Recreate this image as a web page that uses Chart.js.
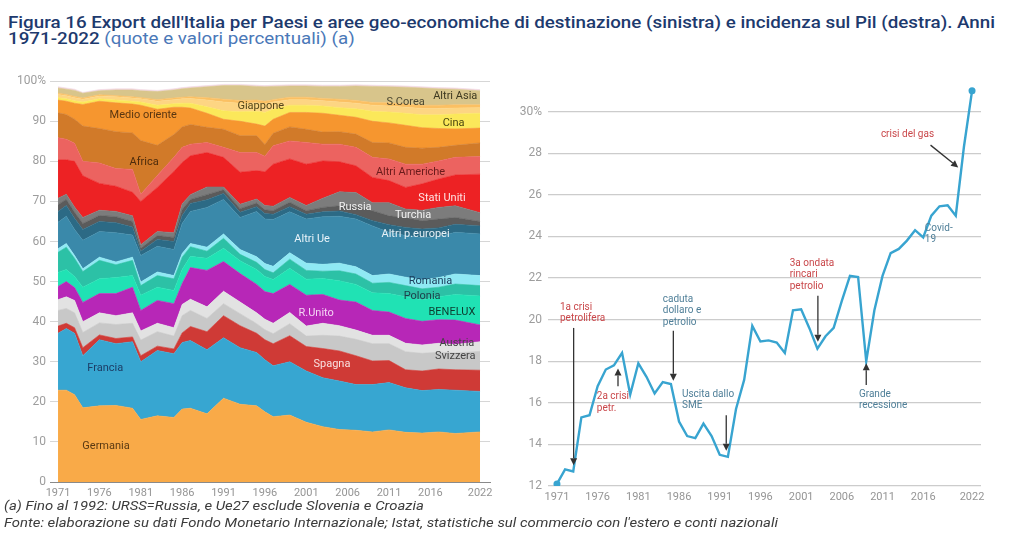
<!DOCTYPE html>
<html lang="it">

<head>
    <meta charset="UTF-8">
    <title>Export dell'Italia per Paesi e incidenza sul Pil</title>
    <script src="https://cdn.jsdelivr.net/npm/chart.js"></script>
    <style>
        body {
            margin: 0;
            width: 1026px;
            height: 554px;
            overflow: hidden;
            position: relative;
            background: #fff;
            font-family: Roboto, sans-serif;
        }

        .riga {
            position: absolute;
            left: 8px;
            width: max-content;
            white-space: nowrap;
            transform-origin: 0 0;
            line-height: 1;
        }

        .titolo {
            font-size: 16.5px;
            font-weight: 500;
            color: #1d3a6e;
        }

        .titolo .chiaro {
            font-weight: 400;
            color: #4a78b8;
        }

        .nota {
            left: 4px;
            font-size: 13px;
            font-style: italic;
            color: #3c3c3c;
        }

        canvas {
            position: absolute;
        }
    </style>
</head>

<body>
    <div class="riga titolo" id="t1" style="top:15px">Figura 16 Export dell'Italia per Paesi e aree geo-economiche di destinazione (sinistra) e incidenza sul Pil (destra). Anni</div>
    <div class="riga titolo" id="t2" style="top:31px">1971-2022 <span class="chiaro">(quote e valori percentuali) (a)</span></div>

    <canvas id="sx" width="500" height="440" style="left:0;top:70px"></canvas>
    <canvas id="dx" width="490" height="440" style="left:505px;top:70px"></canvas>

    <div class="riga nota" id="n1" style="top:499px">(a) Fino al 1992: URSS=Russia, e Ue27 esclude Slovenia e Croazia</div>
    <div class="riga nota" id="n2" style="top:516px">Fonte: elaborazione su dati Fondo Monetario Internazionale; Istat, statistiche sul commercio con l'estero e conti nazionali</div>

    <script>
        const anni = [1971, 1972, 1973, 1974, 1976, 1978, 1980, 1981, 1983, 1985, 1986, 1987, 1989, 1991, 1993,
            1995, 1996, 1997, 1999, 2001, 2003, 2005, 2007, 2009, 2011, 2013, 2015, 2017, 2019, 2022];

        const germania = [22.9, 22.9, 21.8, 18.5, 19.0, 19.1, 18.4, 15.6, 16.5, 16.1, 18.2, 18.4, 17.0, 20.9, 19.4, 19.0, 17.5, 16.3, 16.7, 14.9, 13.8, 13.1, 12.9, 12.5, 13.0, 12.4, 12.2, 12.5, 12.1, 12.5];
        const francia = [14.2, 15.4, 15.3, 13.0, 16.5, 15.4, 16.6, 14.4, 16.3, 15.9, 16.6, 16.9, 16.0, 15.1, 14.1, 13.3, 13.0, 12.7, 13.3, 12.8, 12.2, 12.1, 11.4, 11.8, 11.8, 11.1, 10.6, 10.6, 10.8, 10.1];
        const spagna = [1.8, 1.3, 1.4, 2.0, 1.2, 1.3, 1.2, 1.5, 1.1, 1.2, 2.4, 3.5, 4.5, 5.5, 5.5, 4.8, 5.0, 5.5, 6.5, 6.1, 7.3, 7.5, 7.2, 5.9, 5.5, 4.5, 4.9, 5.1, 5.1, 5.3];
        const svizzera = [3.9, 3.7, 3.7, 3.8, 3.0, 3.5, 3.4, 3.9, 3.6, 3.2, 4.3, 4.0, 3.3, 3.0, 3.0, 2.4, 2.5, 2.5, 3.0, 2.6, 3.3, 3.7, 4.1, 4.3, 4.2, 4.5, 4.4, 4.2, 4.2, 4.7];
        const austria = [2.7, 2.9, 3.1, 2.7, 2.5, 2.2, 2.6, 2.3, 2.1, 2.1, 2.8, 2.8, 2.9, 3.1, 2.9, 2.7, 2.6, 2.6, 2.8, 2.5, 3.0, 2.6, 2.3, 2.1, 2.1, 2.1, 2.1, 2.2, 2.1, 2.4];
        const regnoUnito = [3.3, 3.8, 3.2, 4.8, 4.8, 5.5, 6.4, 5.1, 5.7, 6.0, 5.2, 7.9, 9.1, 7.4, 7.1, 7.1, 6.9, 7.4, 7.0, 7.7, 7.2, 6.4, 7.0, 6.2, 5.8, 6.2, 5.9, 5.9, 6.1, 4.2];
        const benelux = [3.5, 3.0, 2.8, 3.8, 3.7, 4.0, 2.9, 3.8, 3.3, 3.3, 3.5, 2.8, 3.0, 3.3, 3.2, 3.7, 3.8, 3.5, 4.0, 4.0, 4.0, 4.8, 4.4, 4.4, 4.6, 5.4, 5.3, 5.7, 6.4, 7.2];
        const polonia = [5.0, 5.6, 4.5, 3.9, 4.6, 3.2, 3.8, 2.4, 2.9, 2.9, 3.1, 2.4, 1.8, 2.5, 1.6, 1.8, 1.7, 1.7, 2.3, 2.2, 1.8, 2.5, 2.6, 2.4, 2.8, 2.8, 2.8, 2.4, 2.6, 2.6];
        const romania = [0.9, 0.9, 0.7, 0.7, 0.8, 0.7, 0.8, 0.9, 0.9, 0.8, 0.9, 0.8, 1.0, 1.1, 1.2, 1.4, 1.5, 1.6, 1.6, 1.8, 1.7, 1.9, 1.8, 1.9, 2.1, 2.1, 2.2, 2.4, 2.5, 2.5];
        const altriUe = [6.6, 6.8, 6.5, 7.1, 6.4, 7.3, 5.5, 6.6, 6.4, 6.5, 7.5, 8.0, 9.9, 8.6, 8.0, 11.3, 11.1, 11.7, 10.2, 11.0, 11.9, 11.7, 11.9, 12.4, 10.4, 10.4, 10.6, 10.2, 10.4, 10.4];
        const altriEuropei = [2.7, 2.7, 2.8, 2.7, 2.5, 2.5, 2.0, 1.1, 1.7, 2.0, 2.0, 2.0, 1.9, 1.5, 1.3, 1.2, 1.4, 1.3, 1.3, 1.2, 1.2, 1.3, 1.1, 1.3, 1.9, 2.0, 2.1, 2.2, 2.0, 2.0];
        const turchia = [1.7, 1.5, 1.5, 1.5, 1.5, 1.5, 1.4, 0.7, 1.0, 1.0, 1.5, 1.0, 1.3, 0.9, 0.9, 0.9, 0.9, 0.9, 1.1, 0.9, 1.1, 1.3, 2.1, 2.5, 2.2, 2.5, 2.1, 2.2, 1.7, 1.1];
        const russia = [1.6, 1.3, 1.3, 1.5, 1.3, 1.3, 1.4, 0.9, 1.0, 1.2, 1.4, 1.2, 1.9, 0.7, 1.1, 1.0, 1.1, 1.1, 1.2, 1.3, 2.3, 3.5, 3.4, 2.0, 3.3, 2.1, 2.6, 2.9, 2.9, 2.2];
        const statiUniti = [9.6, 8.6, 11.4, 10.4, 6.7, 6.3, 5.9, 10.8, 11.0, 15.3, 10.3, 9.7, 8.6, 7.4, 8.0, 7.1, 8.4, 10.5, 9.6, 10.3, 9.3, 7.5, 6.7, 6.3, 5.5, 5.4, 6.6, 7.1, 7.7, 9.6];
        const altreAmeriche = [5.5, 5.1, 4.5, 3.6, 5.1, 4.4, 5.7, 1.8, 3.0, 3.5, 3.8, 2.9, 2.5, 2.5, 4.9, 4.5, 3.9, 4.6, 4.5, 5.4, 4.2, 4.4, 4.6, 5.0, 5.4, 5.8, 4.9, 4.5, 4.4, 4.4];
        const africa = [6.2, 6.2, 6.0, 8.8, 8.6, 9.2, 9.1, 13.4, 7.5, 5.7, 5.1, 4.9, 3.8, 4.5, 4.2, 4.2, 2.9, 3.1, 3.5, 3.3, 3.0, 3.1, 3.3, 3.7, 4.0, 4.2, 4.0, 3.4, 3.0, 3.4];
        const medioOriente = [3.2, 3.3, 4.0, 5.4, 6.8, 7.2, 7.2, 8.8, 9.0, 6.8, 4.9, 4.1, 3.5, 2.5, 3.6, 2.9, 4.6, 3.5, 3.6, 4.2, 4.7, 4.1, 4.2, 5.3, 5.0, 5.5, 5.1, 4.7, 4.1, 3.7];
        const cina = [0.6, 0.6, 0.6, 0.6, 0.6, 0.7, 0.7, 0.8, 1.0, 0.9, 1.0, 1.2, 1.6, 2.1, 2.4, 3.2, 3.4, 2.5, 1.8, 1.8, 1.8, 1.9, 2.1, 2.5, 2.7, 3.0, 3.2, 3.4, 3.7, 3.7];
        const giappone = [0.8, 0.8, 0.8, 0.7, 0.7, 0.8, 0.8, 0.8, 1.0, 1.0, 1.1, 1.2, 1.7, 2.2, 2.1, 2.1, 2.1, 1.8, 1.4, 1.4, 1.3, 1.4, 1.4, 1.5, 1.5, 1.5, 1.6, 1.6, 1.5, 1.4];
        const corea = [0.3, 0.3, 0.3, 0.3, 0.3, 0.3, 0.3, 0.3, 0.4, 0.4, 0.4, 0.4, 0.6, 0.7, 0.7, 0.7, 0.7, 0.6, 0.6, 0.6, 0.6, 0.7, 0.7, 0.7, 0.8, 0.8, 0.8, 0.8, 0.8, 0.7];
        const altriAsia = [1.3, 1.3, 1.5, 1.2, 1.0, 1.4, 1.7, 1.7, 2.0, 2.0, 2.1, 2.2, 2.7, 3.4, 3.7, 3.4, 3.6, 3.3, 2.8, 2.8, 3.0, 3.2, 3.6, 4.0, 4.0, 4.2, 4.3, 4.1, 3.9, 3.5];
        const altri = [0.3, 0.3, 0.3, 0.2, 0.3, 0.3, 0.3, 0.3, 0.3, 0.3, 0.3, 0.3, 0.3, 0.3, 0.3, 0.3, 0.3, 0.3, 0.3, 0.3, 0.3, 0.3, 0.3, 0.3, 0.3, 0.3, 0.3, 0.3, 0.3, 0.3];

        // incidenza dell'export sul Pil (%), 1971-2022
        const anniPil = [];
        for (let a = 1971; a <= 2022; a++) anniPil.push(a);
        const pil = [12.1, 12.8, 12.7, 15.3, 15.4, 16.8, 17.6, 17.8, 18.4, 16.4,
            17.9, 17.25, 16.45, 17.0, 16.9, 15.1, 14.4, 14.3, 15.0, 14.4,
            13.5, 13.4, 15.7, 17.1, 19.7, 18.95, 19.0, 18.9, 18.4, 20.45,
            20.5, 19.6, 18.6, 19.2, 19.6, 20.9, 22.1, 22.05, 18.0, 20.45,
            22.1, 23.2, 23.4, 23.8, 24.3, 23.95, 25.0, 25.45, 25.5, 25.0,
            28.3, 31.0];

        const tickAnni = [1971, 1976, 1981, 1986, 1991, 1996, 2001, 2006, 2011, 2016, 2022];
        const tickPil = [12, 14, 16, 18, 20, 22, 24, 26, 28, 30];

        const serie = [
            { nome: 'Germania', valori: germania, colore: '#f9aa48' },
            { nome: 'Francia', valori: francia, colore: '#37a6d1' },
            { nome: 'Spagna', valori: spagna, colore: '#cf3a36' },
            { nome: 'Svizzera', valori: svizzera, colore: '#c8c8c8' },
            { nome: 'Austria', valori: austria, colore: '#e2e2e2' },
            { nome: 'R.Unito', valori: regnoUnito, colore: '#b727b7' },
            { nome: 'BENELUX', valori: benelux, colore: '#20e2b4' },
            { nome: 'Polonia', valori: polonia, colore: '#2cc1a6' },
            { nome: 'Romania', valori: romania, colore: '#8fe9f4' },
            { nome: 'Altri Ue', valori: altriUe, colore: '#3a89aa' },
            { nome: 'Altri p.europei', valori: altriEuropei, colore: '#2c6a85' },
            { nome: 'Turchia', valori: turchia, colore: '#5b5b5b' },
            { nome: 'Russia', valori: russia, colore: '#7c7c7c' },
            { nome: 'Stati Uniti', valori: statiUniti, colore: '#ed2224' },
            { nome: 'Altri Americhe', valori: altreAmeriche, colore: '#ec6360' },
            { nome: 'Africa', valori: africa, colore: '#d17a29' },
            { nome: 'Medio oriente', valori: medioOriente, colore: '#f6962f' },
            { nome: 'Cina', valori: cina, colore: '#fbe85a' },
            { nome: 'Giappone', valori: giappone, colore: '#fdd583' },
            { nome: 'S.Corea', valori: corea, colore: '#fbc063' },
            { nome: 'Altri Asia', valori: altriAsia, colore: '#d8c58b' },
            { nome: 'Altri', valori: altri, colore: '#f2d8e2' }
        ];

        // etichette dentro le aree (anno, quota)
        const etichette = [
            { t: 'Medio oriente', x: 1981.3, y: 91.6, c: '#5a3610' },
            { t: 'Africa', x: 1981.4, y: 79.9, c: '#4d2c0c' },
            { t: 'Giappone', x: 1995.5, y: 93.8, c: '#54461a' },
            { t: 'S.Corea', x: 2013.0, y: 94.8, c: '#4a4630' },
            { t: 'Altri Asia', x: 2019.0, y: 96.3, c: '#3e3920' },
            { t: 'Cina', x: 2018.8, y: 89.6, c: '#4a4610' },
            { t: 'Altri Americhe', x: 2013.6, y: 77.4, c: '#6a1b1b' },
            { t: 'Stati Uniti', x: 2017.4, y: 70.7, c: '#ffe4e4' },
            { t: 'Russia', x: 2006.9, y: 68.5, c: '#f2f2f2' },
            { t: 'Turchia', x: 2013.9, y: 66.5, c: '#f2f2f2' },
            { t: 'Altri p.europei', x: 2014.2, y: 61.8, c: '#e6f1f7' },
            { t: 'Altri Ue', x: 2001.7, y: 60.5, c: '#eaf4fa' },
            { t: 'Romania', x: 2016.0, y: 50.1, c: '#1b3a58' },
            { t: 'Polonia', x: 2015.0, y: 46.4, c: '#1d3d48' },
            { t: 'BENELUX', x: 2018.6, y: 42.4, c: '#0d3a2e' },
            { t: 'R.Unito', x: 2002.2, y: 42.2, c: '#f4d4f4' },
            { t: 'Austria', x: 2019.2, y: 34.5, c: '#444444' },
            { t: 'Svizzera', x: 2019.0, y: 31.3, c: '#444444' },
            { t: 'Spagna', x: 2004.1, y: 29.3, c: '#f9e0e0' },
            { t: 'Francia', x: 1976.7, y: 28.3, c: '#1d3d66' },
            { t: 'Germania', x: 1976.8, y: 8.9, c: '#5a3912' }
        ];

        const rosso = '#c9474a';
        const grigioBlu = '#4f7f98';

        // note del grafico di destra: testo (a sinistra) e frecce
        const note = [
            { righe: ['1a crisi', 'petrolifera'], x: 1971.37, y: 20.6, c: rosso },
            { righe: ['2a crisi', 'petr.'], x: 1975.9, y: 16.28, c: rosso },
            { righe: ['caduta', 'dollaro e', 'petrolio'], x: 1984.0, y: 20.99, c: grigioBlu },
            { righe: ['Uscita dallo', 'SME'], x: 1986.36, y: 16.42, c: grigioBlu },
            { righe: ['3a ondata', 'rincari', 'petrolio'], x: 1999.6, y: 22.72, c: rosso },
            { righe: ['Grande', 'recessione'], x: 2008.1, y: 16.42, c: grigioBlu },
            { righe: ['Covid-', '19'], x: 2016.2, y: 24.4, c: grigioBlu },
            { righe: ['crisi del gas'], x: 2010.8, y: 28.88, c: rosso }
        ];
        const frecce = [
            { x1: 1973.05, y1: 19.6, x2: 1973.05, y2: 13.0 },
            { x1: 1978.5, y1: 16.8, x2: 1978.5, y2: 17.65 },
            { x1: 1985.3, y1: 19.47, x2: 1985.3, y2: 17.06 },
            { x1: 1991.8, y1: 15.4, x2: 1991.8, y2: 13.7 },
            { x1: 2003.06, y1: 21.15, x2: 2003.06, y2: 18.94 },
            { x1: 2009.0, y1: 16.86, x2: 2009.0, y2: 17.9 },
            { x1: 2016.9, y1: 28.39, x2: 2020.3, y2: 27.32 }
        ];

        Chart.defaults.font.family = 'Roboto, sans-serif';
        Chart.defaults.animation = false;

        const etichettePlugin = {
            id: 'etichette',
            afterDatasetsDraw(chart) {
                const { ctx, scales: { x, y } } = chart;
                ctx.save();
                ctx.font = '11px Roboto, sans-serif';
                ctx.textAlign = 'center';
                ctx.textBaseline = 'middle';
                etichette.forEach(e => {
                    ctx.fillStyle = e.c;
                    ctx.fillText(e.t, x.getPixelForValue(e.x), y.getPixelForValue(e.y));
                });
                ctx.restore();
            }
        };

        const notePlugin = {
            id: 'note',
            afterDatasetsDraw(chart) {
                const { ctx, scales: { x, y } } = chart;
                ctx.save();
                ctx.font = '10px Roboto, sans-serif';
                ctx.textAlign = 'left';
                ctx.textBaseline = 'middle';
                note.forEach(n => {
                    ctx.fillStyle = n.c;
                    n.righe.forEach((r, i) => {
                        ctx.fillText(r, x.getPixelForValue(n.x), y.getPixelForValue(n.y) + i * 11.5);
                    });
                });
                ctx.strokeStyle = '#333';
                ctx.fillStyle = '#333';
                ctx.lineWidth = 1.3;
                frecce.forEach(f => {
                    const ax = x.getPixelForValue(f.x1), ay = y.getPixelForValue(f.y1);
                    const bx = x.getPixelForValue(f.x2), by = y.getPixelForValue(f.y2);
                    const ang = Math.atan2(by - ay, bx - ax);
                    const lung = 7, larg = 3.5;
                    ctx.beginPath();
                    ctx.moveTo(ax, ay);
                    ctx.lineTo(bx - Math.cos(ang) * lung, by - Math.sin(ang) * lung);
                    ctx.stroke();
                    ctx.beginPath();
                    ctx.moveTo(bx, by);
                    ctx.lineTo(bx - Math.cos(ang) * lung - Math.sin(ang) * larg, by - Math.sin(ang) * lung + Math.cos(ang) * larg);
                    ctx.lineTo(bx - Math.cos(ang) * lung + Math.sin(ang) * larg, by - Math.sin(ang) * lung - Math.cos(ang) * larg);
                    ctx.closePath();
                    ctx.fill();
                });
                ctx.restore();
            }
        };

        // grafico di sinistra: aree sovrapposte
        new Chart(document.getElementById('sx'), {
            type: 'line',
            data: {
                datasets: serie.map((s, i) => ({
                    label: s.nome,
                    data: anni.map((a, j) => ({ x: a, y: s.valori[j] })),
                    backgroundColor: s.colore,
                    borderColor: s.colore,
                    borderWidth: 0.6,
                    pointRadius: 0,
                    tension: 0,
                    fill: i === 0 ? 'origin' : '-1'
                }))
            },
            options: {
                responsive: false,
                layout: { padding: { top: 9, right: 10, left: 0, bottom: 0 } },
                plugins: { legend: { display: false }, tooltip: { enabled: false } },
                scales: {
                    x: {
                        type: 'linear',
                        min: 1970.03,
                        max: 2023.2,
                        afterBuildTicks: ax => { ax.ticks = tickAnni.map(v => ({ value: v })); },
                        afterFit: ax => { ax.height = 28; },
                        grid: { display: false, drawTicks: false },
                        border: { color: '#8a8a8a', width: 1 },
                        ticks: { color: '#959595', font: { size: 11 }, padding: 5, maxRotation: 0, autoSkip: false, callback: v => String(v) }
                    },
                    y: {
                        stacked: true,
                        min: 0,
                        max: 100,
                        afterFit: ax => { ax.width = 50; },
                        grid: { color: '#d6d6d6', drawTicks: false },
                        border: { display: false },
                        ticks: { stepSize: 10, color: '#9d9d9d', font: { size: 12 }, padding: 4, callback: v => v === 100 ? '100%' : v }
                    }
                }
            },
            plugins: [etichettePlugin]
        });

        // grafico di destra: incidenza sul Pil
        new Chart(document.getElementById('dx'), {
            type: 'line',
            data: {
                datasets: [{
                    label: 'Export / Pil',
                    data: anniPil.map((a, i) => ({ x: a, y: pil[i] })),
                    borderColor: '#38a4d0',
                    backgroundColor: '#38a4d0',
                    borderWidth: 2.4,
                    tension: 0,
                    fill: false,
                    pointRadius: c => (c.dataIndex === 0 || c.dataIndex === pil.length - 1) ? 3.5 : 0,
                    pointBorderWidth: 0
                }]
            },
            options: {
                responsive: false,
                layout: { padding: { top: 14.6, right: 14, left: 0, bottom: 0 } },
                plugins: { legend: { display: false }, tooltip: { enabled: false } },
                scales: {
                    x: {
                        type: 'linear',
                        min: 1969.9,
                        max: 2023.1,
                        afterBuildTicks: ax => { ax.ticks = tickAnni.map(v => ({ value: v })); },
                        afterFit: ax => { ax.height = 24; },
                        grid: { display: false, drawTicks: false },
                        border: { display: false },
                        ticks: { color: '#959595', font: { size: 11 }, padding: 5, maxRotation: 0, autoSkip: false, callback: v => String(v) }
                    },
                    y: {
                        min: 12,
                        max: 31.3,
                        afterBuildTicks: ax => { ax.ticks = tickPil.map(v => ({ value: v })); },
                        afterFit: ax => { ax.width = 43; },
                        grid: { color: '#cccccc', lineWidth: 1.3, drawTicks: false },
                        border: { display: false },
                        ticks: { color: '#9d9d9d', font: { size: 12 }, padding: 6, callback: v => v === 30 ? '30%' : v }
                    }
                }
            },
            plugins: [notePlugin]
        });

        // adatta la larghezza dei testi a quella del riferimento (misura la riga più lunga)
        function adatta(misura, ids, larghezza) {
            const w = document.getElementById(misura).getBoundingClientRect().width;
            const k = larghezza / w;
            ids.forEach(id => { document.getElementById(id).style.transform = 'scaleX(' + k + ')'; });
        }
        adatta('t1', ['t1', 't2'], 987);
        adatta('n2', ['n1', 'n2'], 774);
    </script>
</body>

</html>
